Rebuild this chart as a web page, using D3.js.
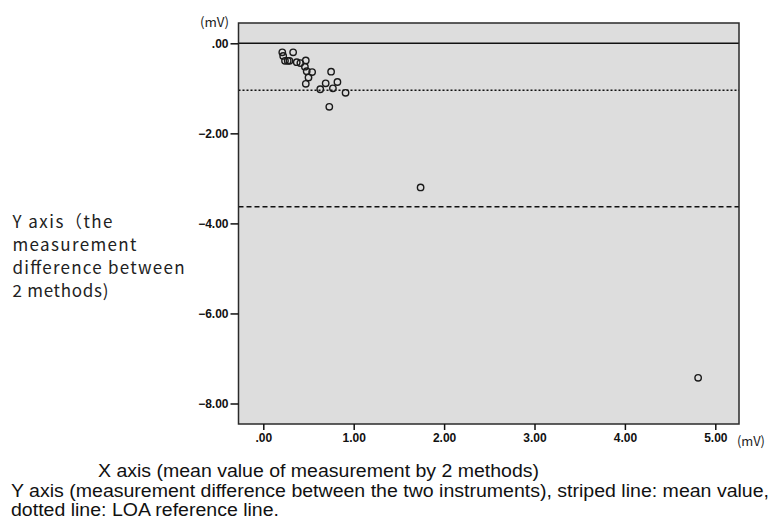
<!DOCTYPE html>
<html>
<head>
<meta charset="utf-8">
<script src="https://cdn.jsdelivr.net/npm/d3@7/dist/d3.min.js"></script>
<style>
  html, body { margin: 0; padding: 0; background: #ffffff; }
  svg { display: block; }
</style>
</head>
<body>
<svg id="chart" width="771" height="523"></svg>
<script>
// ---- data ----
const meanValues = [0.21, 0.22, 0.24, 0.27, 0.29, 0.33, 0.37, 0.41, 0.47, 0.46, 0.48, 0.54, 0.50, 0.47, 0.63, 0.69, 0.75, 0.77, 0.82, 0.73, 0.91, 1.74, 4.81];
const diffValues = [-0.20, -0.28, -0.39, -0.39, -0.39, -0.20, -0.42, -0.44, -0.38, -0.52, -0.62, -0.64, -0.76, -0.90, -1.02, -0.89, -0.63, -1.00, -0.86, -1.41, -1.10, -3.20, -7.43];
const refZero = 0;
const dottedLineValue = -1.04;
const dashedLineValue = -3.63;
const xTicks = [0, 1, 2, 3, 4, 5];
const yTicks = [0, -2, -4, -6, -8];
const yAxisLabelLines = ["Y axis（the", "measurement", "difference between", "2 methods)"];
const captionLines = [
  "X axis (mean value of measurement by 2 methods)",
  "Y axis (measurement difference between the two instruments), striped line: mean value,",
  "dotted line: LOA reference line."
];

// ---- layout ----
const svg = d3.select("#chart");
const plot = { left: 238.5, right: 739, top: 23, bottom: 424 };

const x = d3.scaleLinear().domain([0, 5]).range([263.3, 715.3]);
const y = d3.scaleLinear().domain([0, -8]).range([43.3, 403.5]);

const tickFmt = v => {
  const s = d3.format(".2f")(v);
  return s.replace(/^0\./, ".").replace(/^-0\./, "-.");
};

// plot background
svg.append("rect")
  .attr("x", plot.left).attr("y", plot.top)
  .attr("width", plot.right - plot.left).attr("height", plot.bottom - plot.top)
  .attr("fill", "#dddddd");

// reference lines
svg.append("line")
  .attr("x1", plot.left).attr("x2", plot.right)
  .attr("y1", y(refZero)).attr("y2", y(refZero))
  .attr("stroke", "#111").attr("stroke-width", 1.5);
svg.append("line")
  .attr("x1", plot.left).attr("x2", plot.right)
  .attr("y1", y(dottedLineValue)).attr("y2", y(dottedLineValue))
  .attr("stroke", "#111").attr("stroke-width", 1.5)
  .attr("stroke-dasharray", "2,2");
svg.append("line")
  .attr("x1", plot.left).attr("x2", plot.right)
  .attr("y1", y(dashedLineValue)).attr("y2", y(dashedLineValue))
  .attr("stroke", "#111").attr("stroke-width", 1.5)
  .attr("stroke-dasharray", "5,3");

// points
const pts = meanValues.map((m, i) => ({ m, d: diffValues[i] }));
svg.append("g").selectAll("circle")
  .data(pts).enter().append("circle")
  .attr("cx", p => x(p.m)).attr("cy", p => y(p.d))
  .attr("r", 3.2)
  .attr("fill", "none")
  .attr("stroke", "#1a1a1a")
  .attr("stroke-width", 1.4);

// frame
svg.append("rect")
  .attr("x", plot.left).attr("y", plot.top)
  .attr("width", plot.right - plot.left).attr("height", plot.bottom - plot.top)
  .attr("fill", "none").attr("stroke", "#2a2a2a").attr("stroke-width", 1.5);

// y axis
const yAxis = d3.axisLeft(y).tickValues(yTicks).tickFormat(tickFmt).tickSize(8).tickPadding(2);
const yg = svg.append("g").attr("transform", `translate(${plot.left},0)`).call(yAxis);
yg.select(".domain").remove();
yg.selectAll(".tick line").attr("stroke", "#111").attr("stroke-width", 1.5);
yg.selectAll(".tick text")
  .attr("fill", "#111")
  .style("font-family", "'Liberation Sans', Arial, sans-serif")
  .style("font-size", "12px").style("font-weight", "bold");

// x axis
const xAxis = d3.axisBottom(x).tickValues(xTicks).tickFormat(tickFmt).tickSize(6).tickPadding(3);
const xg = svg.append("g").attr("transform", `translate(0,${plot.bottom})`).call(xAxis);
xg.select(".domain").remove();
xg.selectAll(".tick line").attr("stroke", "#111").attr("stroke-width", 1.5);
xg.selectAll(".tick text")
  .attr("fill", "#111")
  .style("font-family", "'Liberation Sans', Arial, sans-serif")
  .style("font-size", "12px").style("font-weight", "bold");

// unit labels
svg.append("text")
  .attr("x", 200).attr("y", 27)
  .attr("fill", "#222")
  .attr("textLength", 29).attr("lengthAdjust", "spacingAndGlyphs")
  .style("font-family", "'Noto Sans CJK JP', sans-serif").style("font-size", "13px")
  .text("(mV)");
svg.append("text")
  .attr("x", 737).attr("y", 446)
  .attr("fill", "#222")
  .attr("textLength", 28).attr("lengthAdjust", "spacingAndGlyphs")
  .style("font-family", "'Noto Sans CJK JP', sans-serif").style("font-size", "13px")
  .text("(mV)");

// left y-axis description (one text block, wrapped lines)
const ylW = [100, 124, 172, 96];
const yl = svg.append("text")
  .attr("fill", "#222")
  .style("font-family", "'Noto Sans CJK JP', sans-serif").style("font-size", "17px");
yAxisLabelLines.forEach((t, i) => {
  yl.append("tspan")
    .attr("x", 12.5).attr("y", 228 + i * 23)
    .attr("textLength", ylW[i]).attr("lengthAdjust", "spacing")
    .text(t);
});

// captions
const capX = [98, 11, 11];
const capY = [477, 496.5, 516];
const capW = [441, 758, 268];
captionLines.forEach((t, i) => {
  svg.append("text")
    .attr("x", capX[i]).attr("y", capY[i])
    .attr("fill", "#111")
    .attr("textLength", capW[i]).attr("lengthAdjust", "spacingAndGlyphs")
    .style("font-family", "'Liberation Sans', Arial, sans-serif").style("font-size", "17.5px")
    .text(t);
});
</script>
</body>
</html>
